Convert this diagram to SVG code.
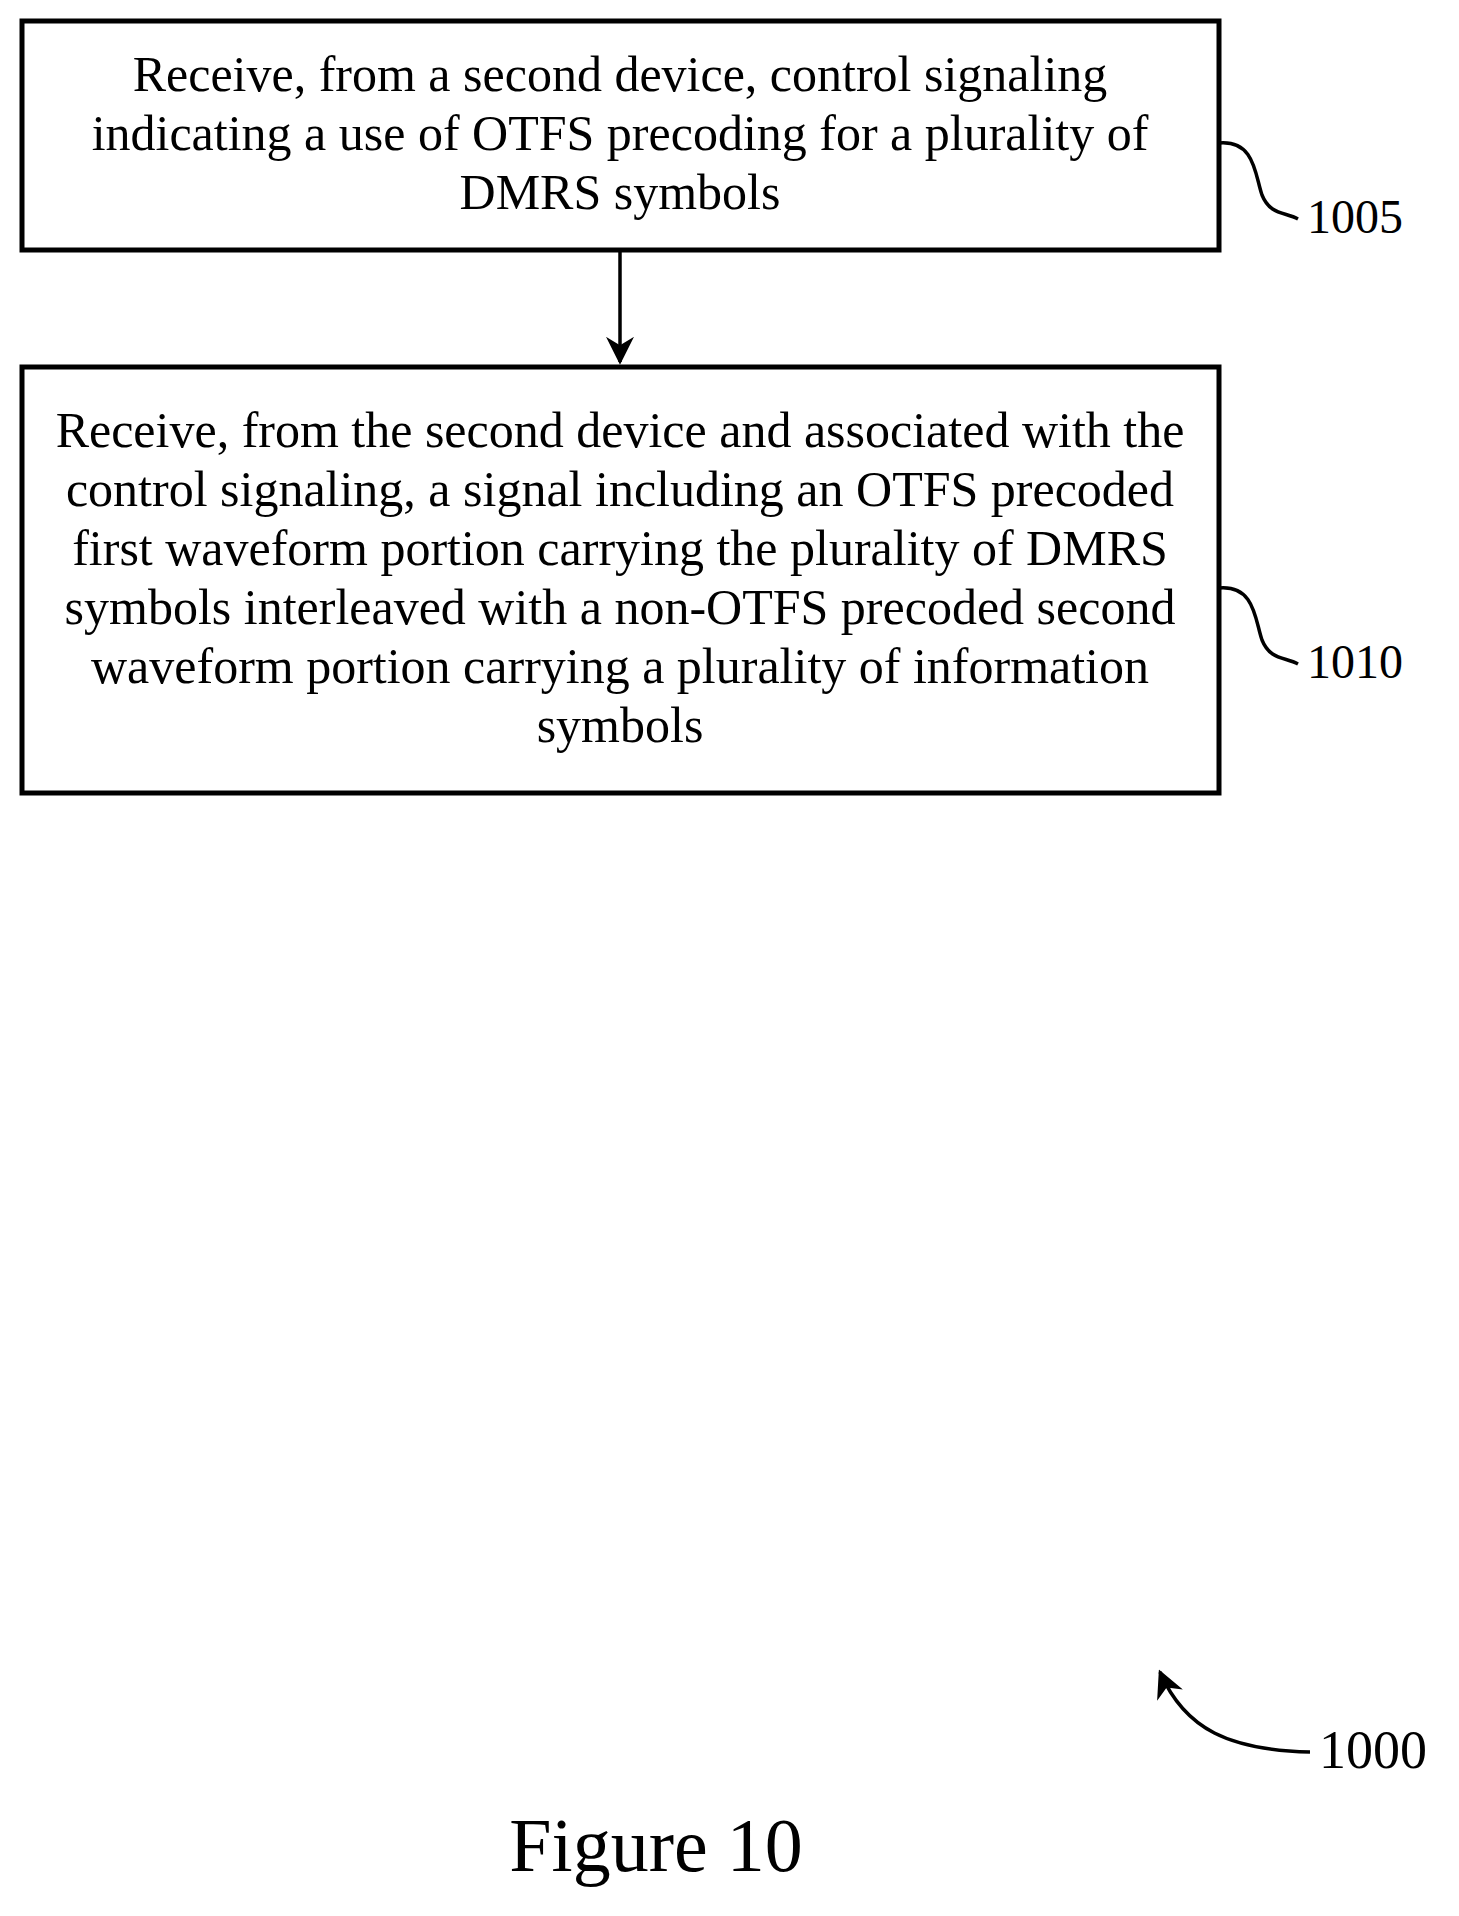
<svg xmlns="http://www.w3.org/2000/svg" width="1459" height="1916" viewBox="0 0 1459 1916">
<style>
.b{fill:#fff;stroke:#000;stroke-width:5}
.t{font-family:"Liberation Serif",serif;font-size:50px;text-anchor:middle;fill:#000}
.l{font-family:"Liberation Serif",serif;font-size:48px;fill:#000}
.c{fill:none;stroke:#000;stroke-width:3.5}
</style>
<defs>
<marker id="a2" viewBox="0 0 10 10" markerWidth="28" markerHeight="28" refX="9" refY="5" orient="auto" markerUnits="userSpaceOnUse"><path d="M0,0 L10,5 L0,10 L3,5 z"/></marker></defs>
<rect width="1459" height="1916" fill="#fff"/>
<g id="n1005"><rect class="b" x="22" y="21" width="1197" height="229"/>
<text class="t" x="620" y="91">Receive, from a second device, control signaling</text>
<text class="t" x="620" y="150">indicating a use of OTFS precoding for a plurality of</text>
<text class="t" x="620" y="209">DMRS symbols</text></g>
<g id="n1010"><rect class="b" x="22" y="367" width="1197" height="426"/>
<text class="t" x="620" y="447">Receive, from the second device and associated with the</text>
<text class="t" x="620" y="506">control signaling, a signal including an OTFS precoded</text>
<text class="t" x="620" y="565">first waveform portion carrying the plurality of DMRS</text>
<text class="t" x="620" y="624">symbols interleaved with a non-OTFS precoded second</text>
<text class="t" x="620" y="683">waveform portion carrying a plurality of information</text>
<text class="t" x="620" y="742">symbols</text></g>
<g id="labels">
<text class="l" x="1307" y="233">1005</text>
<text class="l" x="1307" y="678">1010</text>
<text font-family="Liberation Serif,serif" font-size="54" x="1319" y="1768">1000</text>
<text font-family="Liberation Serif,serif" font-size="76" text-anchor="middle" x="656" y="1871">Figure 10</text></g>
<g id="connectors">
<line x1="620" y1="250" x2="620" y2="362" stroke="#000" stroke-width="3.5" marker-end="url(#a2)"/>
<path class="c" d="M1219,143 C1255,140 1255,175 1262,195 C1270,215 1285,212 1298,219"/>
<path class="c" d="M1219,588 C1255,585 1255,620 1262,640 C1270,660 1285,657 1298,664"/>
<path class="c" d="M1310,1752 C1230,1750 1185,1730 1160,1672" marker-end="url(#a2)"/>
</g>
</svg>
